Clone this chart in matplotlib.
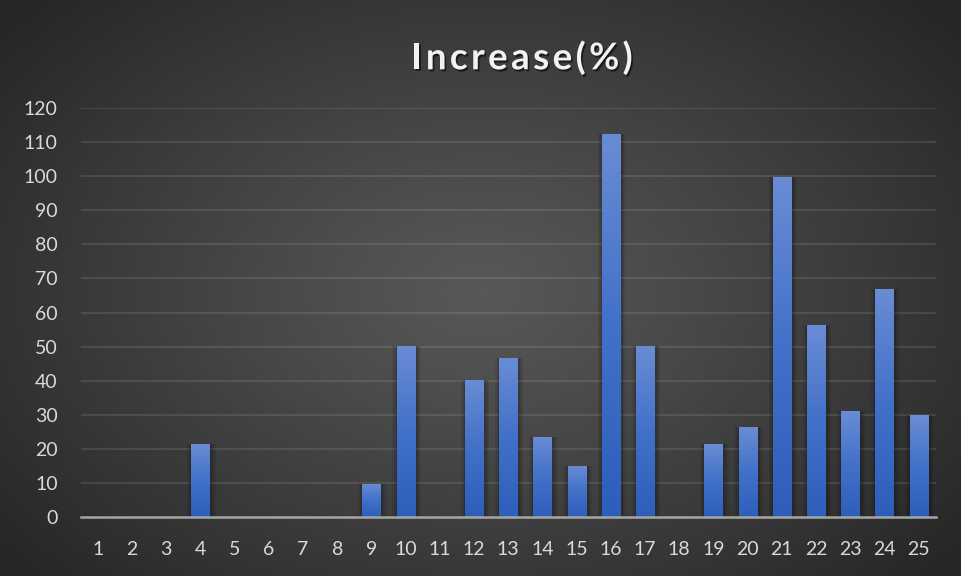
import numpy as np
import matplotlib
matplotlib.use("Agg")
import matplotlib.pyplot as plt
import matplotlib.patheffects as pe
from matplotlib.colors import LinearSegmentedColormap

plt.rcParams['font.family'] = ['Lato', 'DejaVu Sans']

categories = [str(i) for i in range(1, 26)]
increase = [0, 0, 0, 21.4, 0, 0, 0, 0, 9.8, 50.2, 0, 40.2, 46.7, 23.5, 15.0,
            112.4, 50.2, 0, 21.4, 26.4, 99.8, 56.3, 31.1, 66.9, 29.9]
y_ticks = list(range(0, 121, 10))
title_text = "Increase(%)"

W, H, DPI = 962, 576, 100
fig = plt.figure(figsize=(W / DPI, H / DPI), dpi=DPI)

# radial dark-grey background
bg = fig.add_axes([0, 0, 1, 1], zorder=-10)
bg.set_axis_off()
yy, xx = np.mgrid[0:H, 0:W]
r = np.sqrt(((xx - 480) / 620.0) ** 2 + ((yy - 290) / 420.0) ** 2)
t = np.clip(r, 0, 1) ** 1.1
c_in = np.array([0x58, 0x58, 0x58]) / 255
c_out = np.array([0x26, 0x26, 0x26]) / 255
img = c_in[None, None, :] * (1 - t[..., None]) + c_out[None, None, :] * t[..., None]
bg.imshow(img, extent=[0, 1, 0, 1], aspect='auto', origin='upper')
bg.set_xlim(0, 1)
bg.set_ylim(0, 1)

ax = fig.add_axes([80.7 / W, 1 - 517 / H, (935.7 - 80.7) / W, (517 - 108) / H])
ax.set_facecolor('none')
for s in ax.spines.values():
    s.set_visible(False)

x = np.arange(1, len(categories) + 1)
bar_w = 0.53

# soft shadow around each bar
for grow, alpha in [(0.30, 0.07), (0.20, 0.09), (0.11, 0.12)]:
    ax.bar(x + 0.03, np.array(increase) + grow * 1.2, width=bar_w + grow,
           bottom=-0.3, color='black', alpha=alpha, linewidth=0, zorder=2)

bars = ax.bar(x, increase, width=bar_w, color='#4472c4', linewidth=0, zorder=3)

cmap = LinearSegmentedColormap.from_list('barblue', ['#2d5eba', '#4271c9', '#6a8cd4'])
grad = np.linspace(0, 1, 256).reshape(-1, 1)
for b in bars:
    h = b.get_height()
    if h <= 0:
        continue
    x0, w = b.get_x(), b.get_width()
    im = ax.imshow(grad, cmap=cmap, origin='lower', aspect='auto',
                   extent=[x0, x0 + w, 0, h], zorder=4, interpolation='bilinear')
    im.set_clip_path(b)

ax.set_xlim(0.5, len(categories) + 0.5)
ax.set_ylim(0, 120)
ax.set_xticks(x)
ax.set_xticklabels(categories)
ax.set_yticks(y_ticks)
ax.tick_params(axis='both', length=0, labelsize=14, labelcolor='#d9d9d9')
ax.tick_params(axis='x', pad=17.5)
ax.tick_params(axis='y', pad=16.5)

for v in y_ticks[1:]:
    ax.axhline(v, color='white', alpha=0.12, lw=1.2, zorder=1)
ax.axhline(0, color='#a6a6a6', lw=1.8, zorder=6, clip_on=False)

# spaced bold title with drop shadow
renderer = fig.canvas.get_renderer()
fs = 26.5
spacing = 3.4
shadow = [pe.withSimplePatchShadow(offset=(1.2, -1.5), shadow_rgbFace='black', alpha=0.55)]
widths = []
for ch in title_text:
    tt = fig.text(0, 0, ch, fontsize=fs, fontweight='bold')
    widths.append(tt.get_window_extent(renderer).width)
    tt.remove()
total = sum(widths) + spacing * (len(title_text) - 1)
cur = 522 - total / 2
base_y = H - 69.3
for ch, w in zip(title_text, widths):
    fig.text(cur / W, base_y / H, ch, fontsize=fs, fontweight='bold', color='#f2f2f2',
             va='baseline', ha='left', path_effects=shadow)
    cur += w + spacing

fig.savefig('out.png', dpi=DPI)
